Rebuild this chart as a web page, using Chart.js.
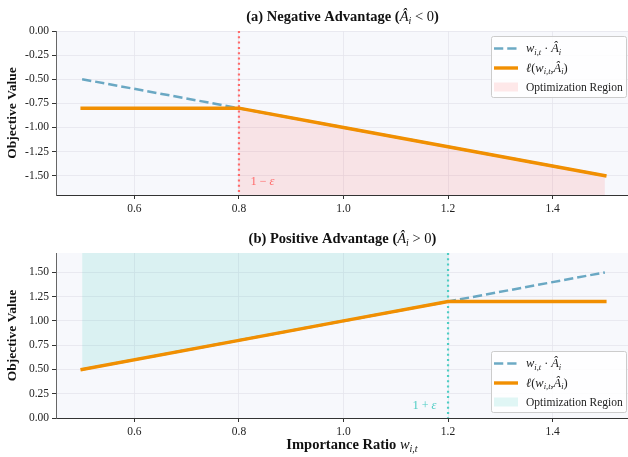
<!DOCTYPE html>
<html>
<head>
<meta charset="utf-8">
<script src="https://cdn.jsdelivr.net/npm/chart.js@4.4.1/dist/chart.umd.min.js"></script>
<style>
  html, body { margin: 0; padding: 0; background: #fff; overflow: hidden; }
  #wrap { width: 628px; height: 457px; overflow: hidden; }
  canvas { display: block; }
</style>
</head>
<body>
<div id="wrap">
  <canvas id="neg" width="632" height="228"></canvas>
  <canvas id="pos" width="632" height="229"></canvas>
</div>
<script>
// data
const ratio = [0.5, 0.8, 1.0, 1.2, 1.5];
const negRaw = [-0.5, -0.8, -1.0, -1.2, -1.5];
const negClipped = [-0.8, -0.8, -1.0, -1.2, -1.5];
const negRegion = [null, -0.8, -1.0, -1.2, -1.5];
const posRaw = [0.5, 0.8, 1.0, 1.2, 1.5];
const posClipped = [0.5, 0.8, 1.0, 1.2, 1.2];
const posRegion = [0.5, 0.8, 1.0, 1.2, null];
const xTicks = [0.6, 0.8, 1.0, 1.2, 1.4];
const negYTicks = [0, -0.25, -0.5, -0.75, -1.0, -1.25, -1.5];
const posYTicks = [0, 0.25, 0.5, 0.75, 1.0, 1.25, 1.5];
const clipLow = 0.8;
const clipHigh = 1.2;

const SERIF = "'Liberation Serif', 'Times New Roman', serif";
const BLUE = 'rgba(46,134,171,0.7)';
const ORANGE = '#F18F01';
const RED = '#FF6B6B';
const TEAL = '#4ECDC4';

function pts(xs, ys) { return xs.map((x, i) => ({ x: x, y: ys[i] })); }
function fnt(style, size) { return (style ? style + ' ' : '') + size + 'px ' + SERIF; }

// parts: [text, style, size, dy]
function drawRich(ctx, parts, x, base, align, color) {
    let w = 0;
    parts.forEach(p => { ctx.font = fnt(p[1], p[2]); w += ctx.measureText(p[0]).width; });
    let cx = align === 'center' ? x - w / 2 : align === 'right' ? x - w : x;
    ctx.fillStyle = color;
    ctx.textAlign = 'left';
    ctx.textBaseline = 'alphabetic';
    parts.forEach(p => {
        ctx.font = fnt(p[1], p[2]);
        ctx.fillText(p[0], cx, base + (p[3] || 0));
        cx += ctx.measureText(p[0]).width;
    });
}

const lblRaw = [['w', 'italic', 12.5], ['i,t', 'italic', 8.5, 2.5], [' \u00b7 ', '', 12], ['\u00c2', 'italic', 12.5], ['i', 'italic', 8.5, 2.5]];
const lblClip = [['\u2113', 'italic', 12.5], ['(', '', 12.5], ['w', 'italic', 12.5], ['i,t', 'italic', 8.5, 2.5], [',', '', 12], ['\u00c2', 'italic', 12.5], ['i', 'italic', 8.5, 2.5], [')', '', 12.5]];
const lblRegion = [['Optimization Region', '', 11.5]];

function drawLegend(ctx, area, corner, fillColor) {
    const w = 135, h = 61;
    const x = area.right - 5 - w;
    const y = corner === 'top' ? area.top + 5 : area.bottom - 6 - h;
    ctx.save();
    ctx.beginPath();
    ctx.roundRect(x + 0.5, y + 0.5, w, h, 2);
    ctx.fillStyle = 'rgba(255,255,255,0.85)';
    ctx.fill();
    ctx.strokeStyle = '#cccccc';
    ctx.lineWidth = 1;
    ctx.stroke();
    const rows = [12.5, 32, 51];
    // dashed handle
    ctx.beginPath();
    ctx.setLineDash([9.25, 4]);
    ctx.strokeStyle = BLUE;
    ctx.lineWidth = 2.5;
    ctx.moveTo(x + 3, y + rows[0]);
    ctx.lineTo(x + 27, y + rows[0]);
    ctx.stroke();
    ctx.setLineDash([]);
    // solid handle
    ctx.beginPath();
    ctx.strokeStyle = ORANGE;
    ctx.lineWidth = 3.4;
    ctx.moveTo(x + 3, y + rows[1]);
    ctx.lineTo(x + 27, y + rows[1]);
    ctx.stroke();
    // fill handle
    ctx.fillStyle = fillColor;
    ctx.fillRect(x + 3, y + rows[2] - 4.5, 24, 9);
    drawRich(ctx, lblRaw, x + 35, y + rows[0] + 3.5, 'left', '#222');
    drawRich(ctx, lblClip, x + 35, y + rows[1] + 3.5, 'left', '#222');
    drawRich(ctx, lblRegion, x + 35, y + rows[2] + 4, 'left', '#222');
    ctx.restore();
}

const deco = {
    id: 'deco',
    beforeDraw(chart) {
        const a = chart.chartArea, ctx = chart.ctx;
        ctx.save();
        ctx.fillStyle = '#f7f8fc';
        ctx.fillRect(a.left, a.top, a.right - a.left, a.bottom - a.top);
        ctx.restore();
    },
    beforeDatasetsDraw(chart, args, o) {
        const a = chart.chartArea, ctx = chart.ctx;
        const px = chart.scales.x.getPixelForValue(o.clipX);
        ctx.save();
        ctx.beginPath();
        ctx.setLineDash([2, 3.3]);
        ctx.strokeStyle = o.color;
        ctx.lineWidth = 2.2;
        ctx.moveTo(px, a.top);
        ctx.lineTo(px, a.bottom);
        ctx.stroke();
        ctx.restore();
    },
    afterDraw(chart, args, o) {
        const a = chart.chartArea, ctx = chart.ctx;
        const sx = chart.scales.x, sy = chart.scales.y;
        ctx.save();
        // title
        drawRich(ctx, o.title, (a.left + a.right) / 2 - 1, a.top - 10.5, 'center', '#111');
        // y label
        ctx.save();
        ctx.translate(13, (a.top + a.bottom) / 2);
        ctx.rotate(-Math.PI / 2);
        ctx.font = fnt('bold', 13.5);
        ctx.fillStyle = '#111';
        ctx.textAlign = 'center';
        ctx.textBaseline = 'middle';
        ctx.fillText('Objective Value', 0, 0);
        ctx.restore();
        // x label
        if (o.xlabel) {
            drawRich(ctx, o.xlabel, 352, a.bottom + 31, 'center', '#111');
        }
        // epsilon annotation
        drawRich(ctx, o.note.parts, sx.getPixelForValue(o.note.x), sy.getPixelForValue(o.note.y) + 4,
            o.note.align, o.color);
        drawLegend(ctx, a, o.legendCorner, o.legendFill);
        ctx.restore();
    }
};

function makeChart(id, cfg) {
    const gridOpts = { color: '#e4e5ec', lineWidth: 0.8, tickLength: 4, tickColor: '#333', tickWidth: 1 };
    const tickFont = { family: SERIF, size: 11.5 };
    return new Chart(document.getElementById(id), {
        type: 'line',
        data: {
            datasets: [
                { data: pts(ratio, cfg.clipped), borderColor: ORANGE, borderWidth: 3.4, borderCapStyle: 'square', fill: false, pointRadius: 0 },
                { data: pts(ratio, cfg.raw), borderColor: BLUE, borderWidth: 2.5, borderDash: [9.25, 4], fill: false, pointRadius: 0 },
                { data: pts(ratio, cfg.region), borderColor: 'rgba(0,0,0,0)', borderWidth: 0, backgroundColor: cfg.fillColor, fill: cfg.fillTo, pointRadius: 0 }
            ]
        },
        options: {
            responsive: false,
            animation: false,
            events: [],
            layout: { padding: { top: cfg.padTop, left: 0, right: 1, bottom: 0 } },
            scales: {
                x: {
                    type: 'linear', min: 0.45, max: 1.55,
                    afterBuildTicks: s => { s.ticks = xTicks.map(v => ({ value: v })); },
                    afterFit: s => { s.height = cfg.xHeight; },
                    ticks: { callback: v => v.toFixed(1), font: tickFont, color: '#222', padding: 3, maxRotation: 0, autoSkip: false },
                    grid: gridOpts,
                    border: { color: '#333', width: 1 }
                },
                y: {
                    min: cfg.yMin, max: cfg.yMax,
                    afterBuildTicks: s => { s.ticks = cfg.yTicks.map(v => ({ value: v })); },
                    afterFit: s => { s.width = 56; },
                    ticks: { callback: v => v.toFixed(2), font: tickFont, color: '#222', padding: 3 },
                    grid: gridOpts,
                    border: { color: '#666', width: 1 }
                }
            },
            plugins: {
                legend: { display: false },
                tooltip: { enabled: false },
                deco: cfg.deco
            }
        },
        plugins: [deco]
    });
}

const T = 14.5;
makeChart('neg', {
    raw: negRaw, clipped: negClipped, region: negRegion,
    yMin: -1.7, yMax: 0, yTicks: negYTicks,
    fillColor: 'rgba(255,107,107,0.15)', fillTo: 'start',
    padTop: 31, xHeight: 33,
    deco: {
        clipX: clipLow, color: RED,
        title: [['(a) Negative Advantage (', 'bold', T], ['\u00c2', 'italic', T], ['i', 'italic', 10, 3], [' < 0', '', T], [')', 'bold', T]],
        note: { x: clipLow + 0.022, y: -1.56, align: 'left', parts: [['1', '', 12.5], [' \u2212 ', '', 12], ['\u03b5', 'italic', 12.5]] },
        legendCorner: 'top', legendFill: 'rgba(255,107,107,0.15)'
    }
});

makeChart('pos', {
    raw: posRaw, clipped: posClipped, region: posRegion,
    yMin: 0, yMax: 1.7, yTicks: posYTicks,
    fillColor: 'rgba(78,205,196,0.17)', fillTo: 'end',
    padTop: 25, xHeight: 39,
    deco: {
        clipX: clipHigh, color: TEAL,
        title: [['(b) Positive Advantage (', 'bold', T], ['\u00c2', 'italic', T], ['i', 'italic', 10, 3], [' > 0', '', T], [')', 'bold', T]],
        xlabel: [['Importance Ratio ', 'bold', 14.5], ['w', 'italic', 14.5], ['i,t', 'italic', 10, 3]],
        note: { x: clipHigh - 0.022, y: 0.13, align: 'right', parts: [['1', '', 12.5], [' + ', '', 12], ['\u03b5', 'italic', 12.5]] },
        legendCorner: 'bottom', legendFill: 'rgba(78,205,196,0.17)'
    }
});
</script>
</body>
</html>
